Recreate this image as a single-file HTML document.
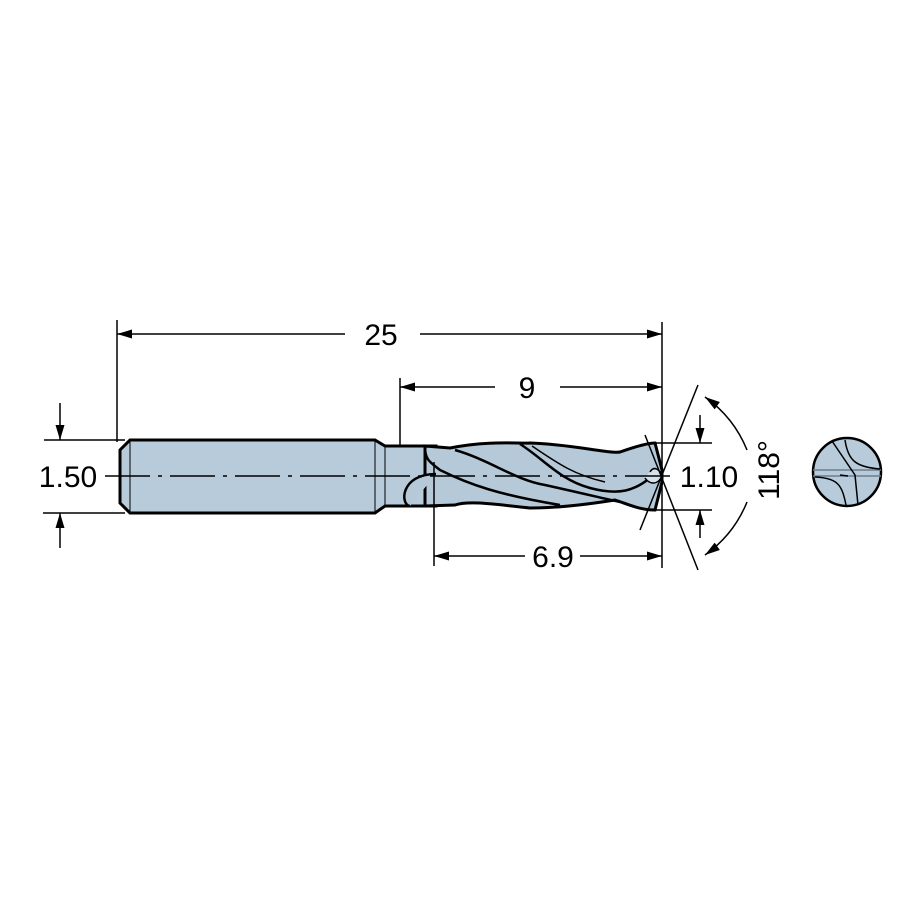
<!DOCTYPE html>
<html><head><style>html,body{margin:0;padding:0;background:#fff}svg{display:block}</style></head>
<body>
<svg width="900" height="900" viewBox="0 0 900 900" xmlns="http://www.w3.org/2000/svg">
<defs>
<marker id="a" viewBox="0 0 10 6" refX="10" refY="3" markerWidth="18" markerHeight="9" markerUnits="userSpaceOnUse" orient="auto-start-reverse">
<path d="M0,0 L10,3 L0,6 z" fill="#000"/></marker>
</defs>
<g font-family="Liberation Sans, sans-serif" font-size="30" fill="#000">
<!-- shank -->
<path d="M130,440 L375,440 L385,446 L436,446 L436,506 L385,506 L375,513 L130,513 L120,503 L120,450 Z" fill="#b8cbda" stroke="#000" stroke-width="3"/>
<line x1="130" y1="441" x2="130" y2="512" stroke="#000" stroke-width="1"/>
<line x1="375" y1="441" x2="375" y2="512" stroke="#000" stroke-width="1"/>
<line x1="385" y1="447" x2="385" y2="505" stroke="#000" stroke-width="1"/>
<!-- flutes body -->
<path d="M425,446 L450,448 C490,440 520,444 530,443 C570,444 610,454 620,452 C640,445 650,443 655,443 L662,470 L662,482 L655,510 C640,510 630,505 615,500 C590,504 560,508 530,508 C500,505 470,500 455,505 L425,506 Z" fill="#b6c9d8" stroke="#000" stroke-width="3"/>
<path d="M425,447 C425,460 430,462 440,470 C470,485 500,495 560,505" fill="none" stroke="#000" stroke-width="2.5"/>
<path d="M455,450 C490,460 515,480 545,485 C590,495 610,500 620,502" fill="none" stroke="#000" stroke-width="2.5"/>
<path d="M520,444 C545,460 560,480 590,488 C620,496 635,490 650,478" fill="none" stroke="#000" stroke-width="2.5"/>
<path d="M532,446 C560,465 575,475 605,482" fill="none" stroke="#000" stroke-width="1.5"/>
<path d="M436,474 C400,474 400,505 410,506" fill="#b6c9d8" stroke="#000" stroke-width="2.5"/>
<path d="M650,472 C654,465 660,470 662,476 C658,485 650,485 645,478" fill="#d6e2ea" stroke="#000" stroke-width="1.5"/>
<!-- centre line -->
<line x1="105" y1="476" x2="670" y2="476" stroke="#000" stroke-width="1.5" stroke-dasharray="45,8,4,8"/>
<!-- extension lines -->
<g stroke="#000" stroke-width="1.5" fill="none">
<line x1="117" y1="320" x2="117" y2="442"/>
<line x1="662" y1="322" x2="662" y2="568"/>
<line x1="400" y1="378" x2="400" y2="447"/>
<line x1="434" y1="462" x2="434" y2="566"/>
<line x1="44" y1="440" x2="125" y2="440"/>
<line x1="43" y1="513" x2="125" y2="513"/>
<line x1="655" y1="443" x2="712" y2="443"/>
<line x1="655" y1="510" x2="712" y2="510"/>
<!-- dims -->
<line x1="117" y1="334" x2="345" y2="334" marker-start="url(#a)"/>
<line x1="420" y1="334" x2="662" y2="334" marker-end="url(#a)"/>
<line x1="400" y1="387" x2="495" y2="387" marker-start="url(#a)"/>
<line x1="560" y1="387" x2="662" y2="387" marker-end="url(#a)"/>
<line x1="434" y1="556" x2="525" y2="556" marker-start="url(#a)"/>
<line x1="580" y1="556" x2="662" y2="556" marker-end="url(#a)"/>
<line x1="60" y1="403" x2="60" y2="440" marker-end="url(#a)"/>
<line x1="60" y1="548" x2="60" y2="513" marker-end="url(#a)"/>
<line x1="700" y1="415" x2="700" y2="443" marker-end="url(#a)"/>
<line x1="700" y1="538" x2="700" y2="510" marker-end="url(#a)"/>
<!-- angle -->
<line x1="698" y1="385" x2="640" y2="530"/>
<line x1="698" y1="570" x2="645" y2="435"/>
<path d="M705,397 A120,120 0 0 1 747,450" marker-start="url(#a)"/>
<path d="M747,502 A120,120 0 0 1 705,555" marker-end="url(#a)"/>
</g>
<text x="381" y="345" text-anchor="middle">25</text>
<text x="527" y="398" text-anchor="middle">9</text>
<text x="553" y="567" text-anchor="middle">6.9</text>
<text x="68" y="487" text-anchor="middle">1.50</text>
<text x="709" y="487" text-anchor="middle">1.10</text>
<text transform="translate(779,470) rotate(-90)" text-anchor="middle">118°</text>
<!-- end view -->
<circle cx="847" cy="472" r="34" fill="#b8cbda" stroke="#000" stroke-width="2.5"/>
<line x1="813" y1="470" x2="881" y2="470" stroke="#6c7e8c" stroke-width="1.5"/>
<line x1="813" y1="476" x2="881" y2="476" stroke="#6c7e8c" stroke-width="1.5"/>
<path d="M832,441 L855,475 L858,505" fill="none" stroke="#000" stroke-width="1.5"/>
<path d="M845,440 C848,460 855,467 880,469" fill="none" stroke="#000" stroke-width="1.5"/>
<path d="M815,477 C838,478 842,485 846,505" fill="none" stroke="#000" stroke-width="1.5"/>
<path d="M840,475 L848,476" fill="none" stroke="#000" stroke-width="1.5"/>
</g>
</svg>
</body></html>
